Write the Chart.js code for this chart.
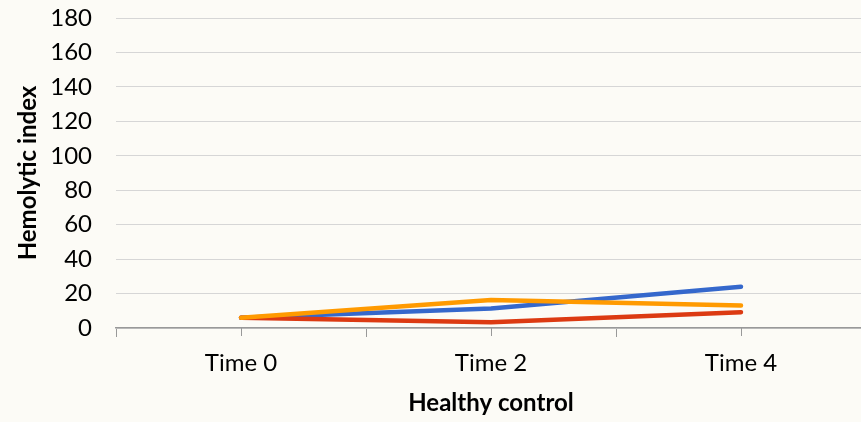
<!DOCTYPE html>
<html>
<head>
<meta charset="utf-8">
<script src="https://cdn.jsdelivr.net/npm/chart.js@4"></script>
<style>
  html, body { margin: 0; padding: 0; overflow: hidden; background: #fcfbf6; }
  #wrap { position: absolute; left: 0; top: 0; width: 871px; height: 422px; }
</style>
</head>
<body>
<div id="wrap"><canvas id="chart" width="871" height="422"></canvas></div>
<script>
'use strict';

const timePoints = ['Time 0', 'Time 2', 'Time 4'];
const blueSeries = [6, 11.3, 24];
const redSeries = [6, 3.3, 9.2];
const orangeSeries = [6, 16.2, 13.1];
const yTicks = [0, 20, 40, 60, 80, 100, 120, 140, 160, 180];

const canvasElem = document.getElementById('chart');
const font = 'Lato, "Open Sans", sans-serif';

// short ticks under each category label, in addition to the boundary ticks
const midTicks = {
  id: 'midTicks',
  afterDraw(chart) {
    const x = chart.scales.x;
    const ctx = chart.ctx;
    ctx.save();
    ctx.strokeStyle = '#999999';
    ctx.lineWidth = 1;
    timePoints.forEach((t, i) => {
      const px = Math.round(x.getPixelForValue(i)) + 0.5;
      ctx.beginPath();
      ctx.moveTo(px, x.top);
      ctx.lineTo(px, x.top + 8);
      ctx.stroke();
    });
    ctx.restore();
  }
};

function lineSet(values, color, order) {
  return {
    data: values,
    borderColor: color,
    backgroundColor: color,
    borderWidth: 4.5,
    pointRadius: 0,
    tension: 0,
    borderCapStyle: 'round',
    borderJoinStyle: 'round',
    order: order,
  };
}

new Chart(canvasElem, {
  type: 'line',
  data: {
    labels: timePoints,
    datasets: [
      lineSet(blueSeries, '#3568cc', 3),
      lineSet(redSeries, '#dc3a12', 2),
      lineSet(orangeSeries, '#ff9a00', 1),
    ],
  },
  options: {
    responsive: false,
    animation: false,
    layout: { padding: { top: 18, right: 5, bottom: 0, left: 0 } },
    plugins: { legend: { display: false }, tooltip: { enabled: false } },
    scales: {
      x: {
        offset: true,
        grid: {
          offset: true,
          drawOnChartArea: false,
          drawTicks: true,
          tickLength: 9,
          color: '#999999',
        },
        border: { display: true, color: '#999999', width: 1.5 },
        ticks: { color: '#000', padding: 12, font: { family: font, size: 24 } },
        title: {
          display: true,
          text: 'Healthy control',
          color: '#000',
          font: { family: font, size: 24, weight: 'bold' },
          padding: { top: 0, bottom: 4 },
        },
        afterFit(scale) { scale.height = 94; },
      },
      y: {
        min: 0,
        max: 180,
        afterBuildTicks(scale) { scale.ticks = yTicks.map(v => ({ value: v })); },
        grid: { color: '#d6d6d6', drawTicks: false, lineWidth: 1 },
        border: { display: false },
        ticks: { color: '#000', padding: 24, font: { family: font, size: 24 } },
        title: {
          display: true,
          text: 'Hemolytic index',
          color: '#000',
          font: { family: font, size: 24, weight: 'bold' },
          padding: { top: 13.5, bottom: 0 },
        },
        afterFit(scale) {
          scale.width = 116;
          scale.paddingTop = 0;
          scale.paddingBottom = 0;
        },
      },
    },
  },
  plugins: [midTicks],
});
</script>
</body>
</html>
